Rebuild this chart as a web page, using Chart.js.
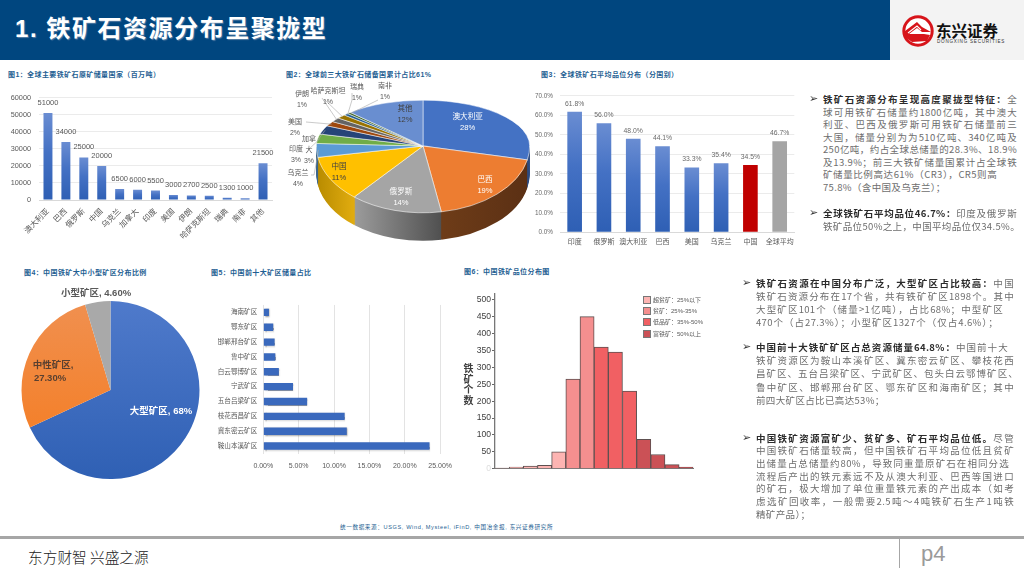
<!DOCTYPE html>
<html lang="zh"><head><meta charset="utf-8">
<script src="https://cdn.jsdelivr.net/npm/chart.js@4/dist/chart.umd.min.js"></script>
<style>
html,body{margin:0;padding:0;background:#fff;width:1024px;height:576px;overflow:hidden}
body{position:relative;font-family:"Liberation Sans","Noto Sans CJK SC",sans-serif}
canvas{position:absolute}
.t{position:absolute;white-space:nowrap}
.cap{position:absolute;white-space:nowrap;font-size:7px;font-weight:700;color:#1f5f93;line-height:10px;letter-spacing:.4px}
.ln{position:absolute;font-size:9.5px;line-height:12px;height:12px;color:#6e6e6e;white-space:nowrap;font-family:"Noto Sans CJK SC",sans-serif;font-weight:400;letter-spacing:.35px}
.ln.j{text-align:justify;text-align-last:justify;white-space:normal;overflow:hidden}
.ln b{color:#2b2b2b;font-weight:700}
.bu{position:absolute;font-size:11px;line-height:12px;color:#333;font-family:"DejaVu Sans",sans-serif}
</style></head><body>
<div style="position:absolute;left:0;top:0;width:890px;height:60px;background:#00467f"></div>
<div style="position:absolute;left:890px;top:0;width:134px;height:60px;background:#f3f3f3"></div>
<div class="t" style="left:15px;top:13px;font-size:24px;line-height:32px;font-weight:700;color:#fff;letter-spacing:1.55px;text-shadow:1px 1px 1px #5a7fa5;font-family:'Liberation Sans','Noto Sans CJK SC',sans-serif">1. 铁矿石资源分布呈聚拢型</div>
<svg style="position:absolute;left:900px;top:13px" width="36" height="36" viewBox="0 0 36 36">
<circle cx="18" cy="18" r="14.2" fill="#fff" stroke="#d7141a" stroke-width="3"/>
<path d="M5 18 L17 9 L22 14 L31 19 L22 19 L17 15 L9 21 L24 21 L30 22 L27 28 L12 29 L5 24 Z" fill="#d7141a"/>
<path d="M8 20 L17 13 L21 17" fill="none" stroke="#fff" stroke-width="1.1"/>
</svg>
<div class="t" style="left:936px;top:21px;font-size:15.5px;line-height:18px;font-weight:700;color:#111;font-family:'Noto Sans CJK SC'">东兴证券</div>
<div class="t" style="left:937px;top:39px;font-size:4.6px;line-height:6px;color:#333;letter-spacing:.75px">DONGXING SECURITIES</div>

<div class="cap" style="left:8px;top:70px">图1：全球主要铁矿石原矿储量国家（百万吨）</div>
<div class="cap" style="left:286px;top:70px">图2：全球前三大铁矿石储备国累计占比61%</div>
<div class="cap" style="left:541px;top:70px">图3：全球铁矿石平均品位分布（分国别）</div>
<div class="cap" style="left:24px;top:268px">图4：中国铁矿大中小型矿区分布比例</div>
<div class="cap" style="left:211px;top:268px">图5：中国前十大矿区储量占比</div>
<div class="cap" style="left:464px;top:267px">图6：中国铁矿品位分布图</div>

<canvas id="c1" width="280" height="175" style="left:0;top:85px"></canvas>
<canvas id="c2" width="286" height="214" style="left:280px;top:39px"></canvas>
<canvas id="c3" width="270" height="170" style="left:530px;top:85px"></canvas>
<canvas id="c4" width="221" height="214" style="left:0;top:283px"></canvas>
<canvas id="c5" width="255" height="180" style="left:205px;top:295px"></canvas>
<canvas id="c6" width="260" height="195" style="left:460px;top:285px"></canvas>
<div id="ytitle" style="position:absolute;left:463px;top:363px;width:11px;font-size:10px;line-height:10.6px;font-weight:700;color:#3f3f3f;text-align:center;font-family:'Noto Sans CJK SC'">铁<br>矿<br>个<br>数</div>
<div id="lg6"></div>

<div class="t" style="left:340px;top:523px;font-size:5.6px;line-height:8px;color:#1f5f93;letter-spacing:.62px">统一数据来源：USGS, Wind, Mysteel, iFinD, 中国冶金报, 东兴证券研究所</div>
<div style="position:absolute;left:0;top:536px;width:1024px;height:3px;background:#a6a6a6"></div>
<div style="position:absolute;left:899px;top:539px;width:1px;height:29px;background:#a6a6a6"></div>
<div class="t" style="left:28px;top:547px;font-size:14.7px;line-height:20px;color:#222;font-family:'Noto Sans CJK SC';font-weight:300">东方财智 兴盛之源</div>
<div class="t" style="left:921px;top:541px;font-size:22px;line-height:26px;color:#9a9a9a">p4</div>

<script>
const worldLabels=['澳大利亚','巴西','俄罗斯','中国','乌克兰','加拿大','印度','美国','伊朗','哈萨克斯坦','瑞典','南非','其他'];
const worldReserves=[51000,34000,25000,20000,6500,6000,5500,3000,2700,2500,1300,1000,21500];
const pieLabels=['澳大利亚','巴西','俄罗斯','中国','乌克兰','印度','加拿大','美国','伊朗','哈萨克斯坦','瑞典','南非','其他'];
const pieShares=[28.3,18.9,13.9,11.1,3.6,3.3,3.05,1.67,1.5,1.39,0.72,0.56,11.9];
const pieShown=['28%','19%','14%','11%','4%','3%','3%','2%','1%','1%','1%','1%','12%'];
const pieColors=['#4472c4','#ed7d31','#a5a5a5','#ffc000','#5b9bd5','#70ad47','#264478','#9e480e','#636363','#997300','#255e91','#43682b','#698ed0'];
const pieSideL=['#2c4a80','#6e3c18','#9c9c9c','#b98c00','#3b658a','#49702e','#18294d','#672f09','#404040','#634b00','#183d5e','#2c441c','#445c87'];
const pieSideR=['#2c4a80','#5b3014','#4f4f4f','#e2ad10','#3b658a','#49702e','#18294d','#672f09','#404040','#634b00','#183d5e','#2c441c','#445c87'];
const gradeLabels=['印度','俄罗斯','澳大利亚','巴西','美国','乌克兰','中国','全球平均'];
const gradeValues=[61.8,56.0,48.0,44.1,33.3,35.4,34.5,46.7];
const sizeLabels=['大型矿区','中性矿区','小型矿区'];
const sizeValues=[68,27.3,4.6];
const districtLabels=['海南矿区','鄂东矿区','邯郸邢台矿区','鲁中矿区','白云鄂博矿区','宁武矿区','五台吕梁矿区','枝花西昌矿区','冀东密云矿区','鞍山本溪矿区'];
const districtValues=[0.8,1.4,1.6,1.7,2.2,4.2,6.2,11.5,11.8,23.5];
const histBins=['b1','b2','b3','b4','b5','b6','b7','b8','b9','b10','b11','b12','b13','b14'];
const histValues=[2,5,8,10,50,265,450,360,345,230,87,42,12,5];
const histClass=[0,0,0,0,0,1,1,2,2,2,3,3,3,3];
const histTicks=[0,50,100,150,200,250,300,350,400,450,500];
const histLegend=['超贫矿：25%以下','贫矿：25%-35%','低品矿：35%-50%','富铁矿：50%以上'];
const histColors=['#fdb4b2','#f58f8f','#f16063','#cb5156'];

const textBlocks=[
 {x:823,y:99,dy:12.5,lines:[
  ['铁矿石资源分布呈现高度聚拢型特征：','全',1017],
  ['','球可用铁矿石储量约1800亿吨，其中澳大',1017],
  ['','利亚、巴西及俄罗斯可用铁矿石储量前三',1017],
  ['','大国，储量分别为为510亿吨、340亿吨及',1017],
  ['','250亿吨，约占全球总储量的28.3%、18.9%',1017],
  ['','及13.9%；前三大铁矿储量国累计占全球铁',1017],
  ['','矿储量比例高达61%（CR3），CR5则高达',997],
  ['','75.8%（含中国及乌克兰）；',0]]},
 {x:823,y:212.5,dy:13,lines:[
  ['全球铁矿石平均品位46.7%：','印度及俄罗斯',1017],
  ['','铁矿品位50%之上，中国平均品位仅34.5%。',0]]},
 {x:756,y:283,dy:13,lines:[
  ['铁矿石资源在中国分布广泛，大型矿区占比较高：','中国',1014],
  ['','铁矿石资源分布在17个省，共有铁矿矿区1898个。其中',1014],
  ['','大型矿区101个（储量>1亿吨），占比68%；中型矿区',1003],
  ['','470个（占27.3%）；小型矿区1327个（仅占4.6%）；',998]]},
 {x:756,y:347,dy:13.2,lines:[
  ['中国前十大铁矿矿区占总资源储量64.8%：','中国前十大',1008],
  ['','铁矿资源区为鞍山本溪矿区、冀东密云矿区、攀枝花西',1014],
  ['','昌矿区、五台吕梁矿区、宁武矿区、包头白云鄂博矿区、',1018],
  ['','鲁中矿区、邯郸邢台矿区、鄂东矿区和海南矿区；其中',1014],
  ['','前四大矿区占比已高达53%；',0]]},
 {x:756,y:437.5,dy:12.7,lines:[
  ['中国铁矿资源富矿少、贫矿多、矿石平均品位低。','尽管',1014],
  ['','中国铁矿石储量较高，但中国铁矿石平均品位低且贫矿',1014],
  ['','出储量占总储量约80%，导致同重量原矿石在相同分选',1009],
  ['','流程后产出的铁元素远不及从澳大利亚、巴西等国进口',1014],
  ['','的矿石，极大增加了单位重量铁元素的产出成本（如考',1014],
  ['','虑选矿回收率，一般需要2.5吨～4吨铁矿石生产1吨铁',1014],
  ['','精矿产品）；',0]]}
];
textBlocks.forEach(b=>{
  const bu=document.createElement('div');bu.className='bu';bu.textContent='➢';
  bu.style.left=(b.x-14)+'px';bu.style.top=(b.y-6)+'px';document.body.appendChild(bu);
  b.lines.forEach((l,i)=>{
    const d=document.createElement('div');d.className='ln'+(l[2]?' j':'');
    d.style.left=b.x+'px';d.style.top=(b.y+i*b.dy-6)+'px';
    if(l[2])d.style.width=(l[2]-b.x)+'px';
    d.innerHTML=(l[0]?'<b>'+l[0]+'</b>':'')+l[1].replace(/>/g,'&gt;');
    document.body.appendChild(d);
  });
});
histLegend.forEach((s,i)=>{
  const y=296+i*11.2;
  const box=document.createElement('div');
  box.style.cssText=`position:absolute;left:643px;top:${y}px;width:6px;height:6px;background:${histColors[i]};border:1px solid #777`;
  const tx=document.createElement('div');tx.className='t';
  tx.style.cssText=`left:653px;top:${y-1}px;font-size:6px;line-height:10px;color:#595959`;
  tx.textContent=s;document.body.append(box,tx);
});

Chart.defaults.font.family='"Liberation Sans","Noto Sans CJK SC",sans-serif';
Chart.defaults.animation=false;
Chart.defaults.responsive=false;
Chart.defaults.plugins.legend.display=false;
Chart.defaults.plugins.tooltip.enabled=false;
const FONT='"Liberation Sans","Noto Sans CJK SC",sans-serif';

function barGrad(top,bot){return c=>{
  const a=c.chart.chartArea;
  if(!a||!c.parsed)return bot;
  const y=c.chart.scales.y.getPixelForValue(c.parsed.y);
  const g=c.chart.ctx.createLinearGradient(0,y,0,a.bottom);
  g.addColorStop(0,top);g.addColorStop(.45,'#4471c4');g.addColorStop(1,bot);return g;};}
function valLabels(fmt,size,color,gap){return {afterDatasetsDraw(ch){
  const x=ch.ctx,m=ch.getDatasetMeta(0);
  x.save();x.font=size+'px '+FONT;x.fillStyle=color;x.textAlign='center';x.textBaseline='middle';
  m.data.forEach((b,i)=>x.fillText(fmt(ch.data.datasets[0].data[i]),b.x,b.y-gap));
  x.restore();}};}
const fixW=w=>(s=>{s.width=w;});
const fixH=h=>(s=>{s.height=h;});

new Chart('c1',{type:'bar',plugins:[valLabels(v=>String(v),7.5,'#595959',10)],
 data:{labels:worldLabels,datasets:[{data:worldReserves,backgroundColor:barGrad('#6a8dd2','#2e5fb4'),barPercentage:.5,categoryPercentage:1}]},
 options:{layout:{padding:{top:12.7,right:8}},scales:{
  x:{afterFit:fixH(60),grid:{display:false,drawTicks:false},border:{color:'#d9d9d9'},ticks:{color:'#595959',font:{size:7.8},minRotation:45,maxRotation:45,autoSkip:false,padding:7}},
  y:{min:0,max:60000,afterFit:fixW(39),ticks:{stepSize:10000,color:'#595959',font:{size:7.3},padding:8,callback:v=>String(v)},grid:{color:'#ebebeb',drawTicks:false},border:{display:false}}}}});

const pieOut=[
 [4,['乌克兰','4%'],298,173,[[311,175],[314,175]]],
 [5,['印度','3%'],296,149,[[308,150]]],
 [6,['加拿','大','3%'],309,139,[[318,140]]],
 [7,['美国','2%'],295,122,[[306,122]]],
 [8,['伊朗','1%'],302,94,[[322,98]]],
 [9,['哈萨克斯坦','1%'],328,91,[[325,100]]],
 [10,['瑞典','1%'],357,87,[[352,93],[352,100]]],
 [11,['南非','1%'],385,86,[[378,100]]]];
const pieIn=[[0,467.7,117,'#fff'],[1,485,180,'#fff'],[2,401,192,'#fff'],[3,339,167,'#404040'],[12,405,109,'#404040']];
const CV2={left:280,top:39};
const KT=46/107,KB=67/107,DEPTH=28;
new Chart('c2',{type:'pie',
 data:{labels:pieLabels,datasets:[{data:pieShares,backgroundColor:pieColors,borderColor:'#ffffff',borderWidth:.7}]},
 options:{layout:{padding:0}},
 plugins:[{id:'tilt',beforeDatasetsDraw(ch){
   const x=ch.ctx,arcs=ch.getDatasetMeta(0).data,a0=arcs[0],cx=a0.x,cy=a0.y,R=a0.outerRadius;
   const half=(top,dy,fn)=>{x.save();x.translate(0,dy);x.beginPath();
     if(top)x.rect(0,0,ch.width,cy);else x.rect(0,cy,ch.width,ch.height);x.clip();
     x.translate(cx,cy);x.scale(1,top?KT:KB);x.translate(-cx,-cy);fn();x.restore();};
   for(let d=DEPTH;d>=1;d--){half(false,d,()=>arcs.forEach((a,i)=>{
     const xs=cx+R*Math.cos(a.startAngle),xe=cx+R*Math.cos(a.endAngle);
     const g=x.createLinearGradient(Math.min(xs,xe),0,Math.max(xs,xe)+1,0);
     g.addColorStop(0,pieSideL[i]);g.addColorStop(1,pieSideR[i]);
     const s=a.options;a.options=Object.assign({},s,{backgroundColor:g,borderWidth:0});a.draw(x);a.options=s;}));}
   const plain=()=>arcs.forEach(a=>a.draw(x));
   half(false,0,plain);half(true,0,plain);
   return false;},
  afterDraw(ch){
   const x=ch.ctx,arcs=ch.getDatasetMeta(0).data,a0=arcs[0],cx=a0.x,cy=a0.y,R=a0.outerRadius;
   const X=v=>v-CV2.left,Y=v=>v-CV2.top;
   x.save();x.textAlign='center';x.textBaseline='middle';x.font='7px '+FONT;
   pieOut.forEach(([i,ls,lx,ly,pts])=>{
     const a=arcs[i],m=(a.startAngle+a.endAngle)/2,s=Math.sin(m);
     x.strokeStyle='#a6a6a6';x.lineWidth=.6;x.beginPath();
     pts.forEach((p,k)=>k?x.lineTo(X(p[0]),Y(p[1])):x.moveTo(X(p[0]),Y(p[1])));
     x.lineTo(cx+R*.98*Math.cos(m),cy+R*.98*s*(s<0?KT:KB));x.stroke();
     x.fillStyle='#595959';
     const step=ls.length===3?11:10.6;
     ls.forEach((t,k)=>x.fillText(t,X(lx),Y(ly)+k*step));
   });
   x.font='7.6px '+FONT;
   pieIn.forEach(([i,lx,ly,col])=>{x.fillStyle=col;
     x.fillText(pieLabels[i],X(lx),Y(ly));x.fillText(pieShown[i],X(lx),Y(ly)+11);});
   x.restore();}}]});

new Chart('c3',{type:'bar',plugins:[valLabels(v=>v.toFixed(1)+'%',6.8,'#6a6a6a',8)],
 data:{labels:gradeLabels,datasets:[{data:gradeValues,
   backgroundColor:c=>c.dataIndex===6?'#c00000':c.dataIndex===7?'#a5a5a5':barGrad('#6a8dd2','#2e5fb4')(c),barPercentage:.5,categoryPercentage:1}]},
 options:{layout:{padding:{top:10.7,right:5}},scales:{
  x:{afterFit:fixH(22.7),grid:{display:false,drawTicks:false},border:{color:'#d9d9d9'},ticks:{color:'#595959',font:{size:7},maxRotation:0,autoSkip:false,padding:6}},
  y:{min:0,max:70,afterFit:fixW(30),ticks:{stepSize:10,color:'#6a6a6a',font:{size:6.4},padding:7,callback:v=>v.toFixed(1)+'%'},grid:{color:'#ebebeb',drawTicks:false},border:{display:false}}}}});

new Chart('c4',{type:'pie',
 data:{labels:sizeLabels,datasets:[{data:sizeValues,borderWidth:0,backgroundColor:c=>{
   const a=c.chart.chartArea;if(!a)return '#4472c4';
   const g=c.chart.ctx.createLinearGradient(0,a.top,0,a.bottom);
   if(c.dataIndex===0){g.addColorStop(0,'#4f7acb');g.addColorStop(1,'#2f60b4');return g;}
   if(c.dataIndex===1){g.addColorStop(0,'#f09050');g.addColorStop(1,'#f57a1c');return g;}
   return '#a9a9a9';}}]},
 options:{layout:{padding:{top:18,bottom:18}}},
 plugins:[{afterDraw(ch){const x=ch.ctx,Y=v=>v-283;
   x.save();x.textAlign='center';x.textBaseline='middle';x.font='700 9.5px '+FONT;
   x.fillStyle='#595959';x.fillText(sizeLabels[2]+', '+sizeValues[2].toFixed(2)+'%',96,Y(293));
   x.fillStyle='#5a4030';x.fillText(sizeLabels[1]+',',53,Y(365));x.fillText(sizeValues[1].toFixed(2)+'%',50,Y(378));
   x.fillStyle='#fff';x.fillText(sizeLabels[0]+', '+sizeValues[0]+'%',161,Y(411));
   x.restore();}}]});

new Chart('c5',{type:'bar',
 data:{labels:districtLabels,datasets:[{data:districtValues,backgroundColor:'#3a69bd',barPercentage:.5,categoryPercentage:1}]},
 plugins:[{beforeDatasetsDraw(ch){const x=ch.ctx;x.save();x.shadowColor='rgba(70,70,70,.55)';x.shadowBlur=1.5;x.shadowOffsetX=.8;x.shadowOffsetY=.8;},
           afterDatasetsDraw(ch){ch.ctx.restore();}}],
 options:{indexAxis:'y',layout:{padding:{top:7.5,right:13.3}},scales:{
  x:{min:0,max:25,afterFit:fixH(21.5),ticks:{stepSize:5,color:'#595959',font:{size:7},padding:8,callback:v=>v.toFixed(2)+'%'},grid:{color:'#e3e3e3',drawTicks:false},border:{display:false}},
  y:{afterFit:fixW(58.3),grid:{display:false,drawTicks:false},border:{display:false},ticks:{color:'#595959',font:{size:6.6},autoSkip:false,padding:6}}}}});

new Chart('c6',{type:'bar',
 data:{labels:histBins,datasets:[{data:histValues,backgroundColor:histClass.map(k=>histColors[k]),borderColor:'#5e5050',borderWidth:1,barPercentage:1,categoryPercentage:1}]},
 options:{layout:{padding:{top:8.7,right:26.7}},scales:{
  x:{afterFit:fixH(11.3),grid:{display:false},border:{color:'#777',width:1},ticks:{display:false}},
  y:{min:0,max:518,afterFit:fixW(35),afterBuildTicks:a=>{a.ticks=histTicks.map(v=>({value:v}));},
     ticks:{color:c=>c.tick&&c.tick.value===0?'#dddddd':'#404040',font:{size:8.6},padding:1},
     grid:{drawOnChartArea:false,color:'#666',tickLength:3,tickWidth:1},border:{color:'#777',width:1.3}}}}});
</script>
</body></html>
